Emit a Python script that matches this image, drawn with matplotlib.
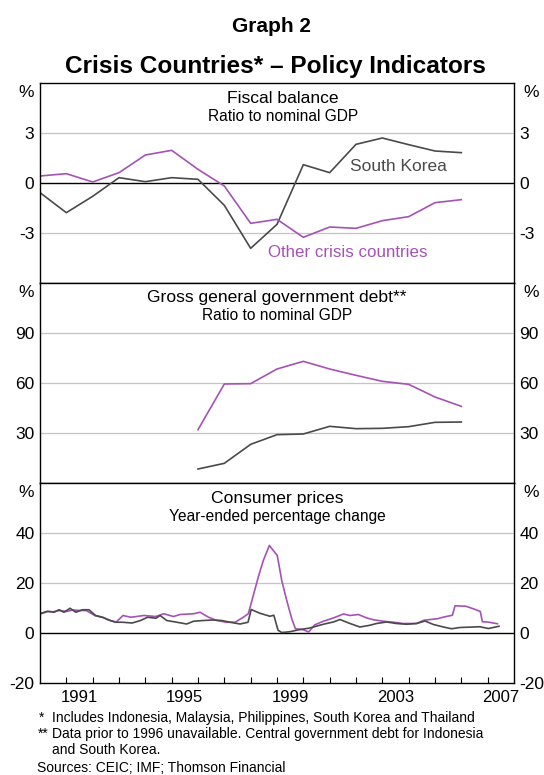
import matplotlib.pyplot as plt

plt.rcParams['font.family'] = ['Liberation Sans', 'DejaVu Sans']

GREY = '#4a4a4a'
PURPLE = '#a453b5'
GRID = '#c4c4c4'

# fiscal balance, ratio to nominal GDP (annual)
fiscal_years = list(range(1990, 2007))
fiscal_korea = [-0.58, -1.78, -0.8, 0.32, 0.08, 0.32, 0.22, -1.34, -3.92, -2.48,
                1.1, 0.62, 2.32, 2.7, 2.3, 1.92, 1.82]
fiscal_other = [0.42, 0.56, 0.06, 0.62, 1.68, 1.96, 0.82, -0.18, -2.42, -2.18,
                -3.26, -2.64, -2.72, -2.26, -2.02, -1.18, -1.0]

# gross general government debt, ratio to nominal GDP
debt_years = list(range(1996, 2007))
debt_korea = [8.4, 11.8, 23.2, 29.0, 29.4, 34.0, 32.6, 32.8, 33.8, 36.4, 36.6]
debt_other = [32.0, 59.4, 59.6, 68.4, 73.0, 68.4, 64.6, 61.0, 59.2, 51.6, 46.0]

# consumer prices, year-ended percentage change
cpi_korea_dates = [1990.0, 1990.28, 1990.53, 1990.72, 1990.91, 1991.14, 1991.36, 1991.61,
                   1991.86, 1992.11, 1992.37, 1992.62, 1992.87, 1993.13, 1993.5, 1993.82,
                   1994.08, 1994.4, 1994.56, 1994.81, 1995.2, 1995.57, 1995.83, 1996.2,
                   1996.58, 1996.9, 1997.22, 1997.6, 1997.9, 1998.02, 1998.35, 1998.73,
                   1998.88, 1999.04, 1999.18, 1999.49, 1999.87, 2000.2, 2000.38, 2000.76,
                   2001.14, 2001.39, 2001.77, 2002.15, 2002.53, 2002.78, 2003.16, 2003.54,
                   2003.92, 2004.3, 2004.62, 2004.94, 2005.32, 2005.63, 2005.95, 2006.46,
                   2006.7, 2007.03, 2007.43]
cpi_korea = [7.7, 8.7, 8.3, 9.3, 8.3, 9.9, 8.3, 9.3,
             9.3, 7.0, 6.3, 5.2, 4.3, 4.3, 4.0, 5.0,
             6.3, 5.9, 7.0, 5.0, 4.3, 3.6, 4.7, 5.0,
             5.2, 5.0, 4.3, 3.6, 4.3, 9.4, 7.9, 6.7,
             7.1, 1.1, 0.2, 0.5, 1.4, 1.9, 2.4, 3.5,
             4.4, 5.4, 3.8, 2.4, 3.1, 3.8, 4.4, 3.8,
             3.5, 3.8, 4.8, 3.4, 2.4, 1.7, 2.2, 2.4,
             2.5, 1.8, 2.7]
cpi_other_dates = [1990.0, 1990.3, 1990.5, 1990.75, 1991.0, 1991.25, 1991.5, 1991.75,
                   1992.1, 1992.4, 1992.65, 1992.9, 1993.15, 1993.45, 1993.95, 1994.4,
                   1994.7, 1995.07, 1995.32, 1995.83, 1996.08, 1996.4, 1996.71, 1997.09,
                   1997.41, 1997.72, 1997.91, 1998.1, 1998.29, 1998.48, 1998.71, 1998.86,
                   1999.01, 1999.18, 1999.37, 1999.56, 1999.7, 2000.0, 2000.2, 2000.44,
                   2000.76, 2001.14, 2001.52, 2001.77, 2002.09, 2002.41, 2002.66, 2003.04,
                   2003.42, 2003.8, 2004.3, 2004.58, 2005.09, 2005.34, 2005.66, 2005.76,
                   2006.17, 2006.48, 2006.72, 2006.8, 2006.99, 2007.37]
cpi_other = [7.6, 8.6, 8.5, 9.0, 8.6, 9.2, 9.0, 9.0,
             6.9, 6.2, 5.0, 4.4, 7.0, 6.3, 7.0, 6.6,
             7.7, 6.6, 7.4, 7.7, 8.3, 6.3, 5.0, 4.3,
             4.3, 6.3, 7.7, 15.0, 22.4, 29.0, 35.0, 33.0,
             31.0, 21.0, 13.0, 5.7, 1.7, 1.3, 0.4, 3.3,
             4.7, 6.0, 7.6, 7.0, 7.4, 6.0, 5.3, 4.7,
             4.3, 3.8, 3.8, 5.1, 5.7, 6.4, 7.1, 10.9,
             10.7, 9.6, 8.6, 4.5, 4.4, 3.7]

year_ticks = list(range(1991, 2008))
year_labels = ['1991', '1995', '1999', '2003', '2007']

W, H = 544, 775
fig = plt.figure(figsize=(W / 100, H / 100), dpi=100)

fig.text(272 / W, 1 - 26 / H, 'Graph 2', ha='center', va='center',
         fontsize=15, fontweight='bold')
fig.text(275 / W, 1 - 67 / H, 'Crisis Countries* \u2013 Policy Indicators',
         ha='center', va='center', fontsize=17.6, fontweight='bold')

panels = [
    dict(top=83, ylim=(-6, 6), ticks=[-3, 0, 3], labels=['-3', '0', '3'],
         title='Fiscal balance', sub='Ratio to nominal GDP', tx=0.513),
    dict(top=283, ylim=(0, 120), ticks=[30, 60, 90], labels=['30', '60', '90'],
         title='Gross general government debt**', sub='Ratio to nominal GDP', tx=0.5),
    dict(top=483, ylim=(-20, 60), ticks=[-20, 0, 20, 40], labels=['-20', '0', '20', '40'],
         title='Consumer prices', sub='Year-ended percentage change', tx=0.5),
]

axes = []
for p in panels:
    ax = fig.add_axes([40 / W, 1 - (p['top'] + 200) / H, 474 / W, 200 / H])
    ax.set_xlim(1990, 2008)
    ax.set_ylim(*p['ylim'])
    ax.set_yticks(p['ticks'])
    ax.set_yticklabels(p['labels'])
    ax.tick_params(axis='y', length=0, labelsize=12.5, labelright=True, pad=4)
    for v in p['ticks']:
        if v == 0:
            ax.axhline(0, color='black', lw=1.0, zorder=1)
        elif v != p['ylim'][0]:
            ax.axhline(v, color=GRID, lw=0.9, zorder=0)
    for s in ax.spines.values():
        s.set_color('black')
        s.set_linewidth(1.0)
    ax.text(-0.013, 0.99, '%', transform=ax.transAxes, ha='right', va='top', fontsize=12.5)
    ax.text(1.019, 0.99, '%', transform=ax.transAxes, ha='left', va='top', fontsize=12.5)
    ax.text(p['tx'], 0.925, p['title'], transform=ax.transAxes, ha='center', va='center',
            fontsize=12.6)
    ax.text(p['tx'], 0.835, p['sub'], transform=ax.transAxes, ha='center', va='center',
            fontsize=11.2)
    ax.set_xticks([])
    axes.append(ax)

ax1, ax2, ax3 = axes

ax1.plot(fiscal_years, fiscal_korea, color=GREY, lw=1.2)
ax1.plot(fiscal_years, fiscal_other, color=PURPLE, lw=1.2)
ax1.text(2003.6, 1.02, 'South Korea', color=GREY, ha='center', va='center', fontsize=12.5)
ax1.text(2001.68, -4.18, 'Other crisis countries', color=PURPLE, ha='center',
         va='center', fontsize=12.2)

ax2.plot(debt_years, debt_korea, color=GREY, lw=1.2)
ax2.plot(debt_years, debt_other, color=PURPLE, lw=1.2)

ax3.plot(cpi_other_dates, cpi_other, color=PURPLE, lw=1.2)
ax3.plot(cpi_korea_dates, cpi_korea, color=GREY, lw=1.2)

ax3.set_xticks(year_ticks)
ax3.set_xticklabels([])
ax3.tick_params(axis='x', direction='in', length=4.5, width=0.8, color='black')
for lab in year_labels:
    ax3.text(int(lab) + 0.5, -0.035, lab, transform=ax3.get_xaxis_transform(),
             ha='center', va='top', fontsize=12)

notes = [
    (39, 718, '*'),
    (52, 718, 'Includes Indonesia, Malaysia, Philippines, South Korea and Thailand'),
    (38, 734, '**'),
    (52, 734, 'Data prior to 1996 unavailable. Central government debt for Indonesia'),
    (52, 750, 'and South Korea.'),
    (37, 768, 'Sources: CEIC; IMF; Thomson Financial'),
]
for x, y, t in notes:
    fig.text(x / W, 1 - y / H, t, ha='left', va='center', fontsize=10)

fig.savefig('out.png', dpi=100)
